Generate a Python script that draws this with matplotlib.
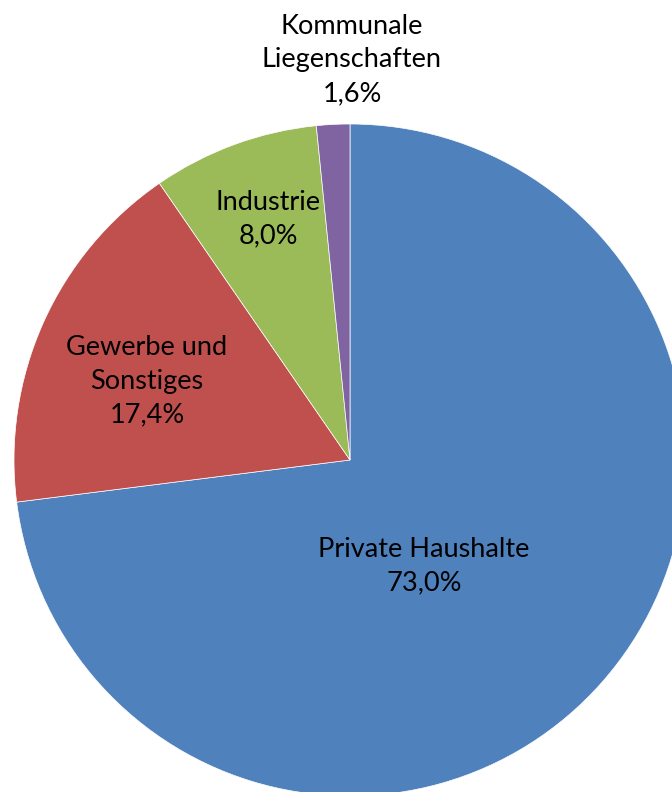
import matplotlib.pyplot as plt

# Anteile am Verbrauch
kategorien = ['Private Haushalte', 'Gewerbe und\nSonstiges', 'Industrie', 'Kommunale\nLiegenschaften']
anteile = [73.0, 17.4, 8.0, 1.6]
farben = ['#4F81BD', '#C0504D', '#9BBB59', '#8064A2']

# Position der Beschriftungen (Pixel, y von oben)
label_pos = [(424, 566), (147, 381), (268, 219), (352, 60)]

W, H = 672, 792
fig = plt.figure(figsize=(W / 100, H / 100), dpi=100)
ax = fig.add_axes([0, 0, 1, 1])
ax.set_xlim(0, W)
ax.set_ylim(0, H)
ax.set_aspect('equal')
ax.axis('off')

ax.pie(anteile, colors=farben, startangle=90, counterclock=False,
       center=(350, H - 460), radius=336,
       wedgeprops=dict(edgecolor='white', linewidth=0.5))
ax.set_xlim(0, W)
ax.set_ylim(0, H)

for name, wert, (x, y) in zip(kategorien, anteile, label_pos):
    txt = name + '\n' + f'{wert:.1f}'.replace('.', ',') + '%'
    ax.text(x, H - y, txt, ha='center', va='center', fontsize=19.5,
            family='Lato', color='black', linespacing=1.42)

fig.savefig('out.png', dpi=100)
